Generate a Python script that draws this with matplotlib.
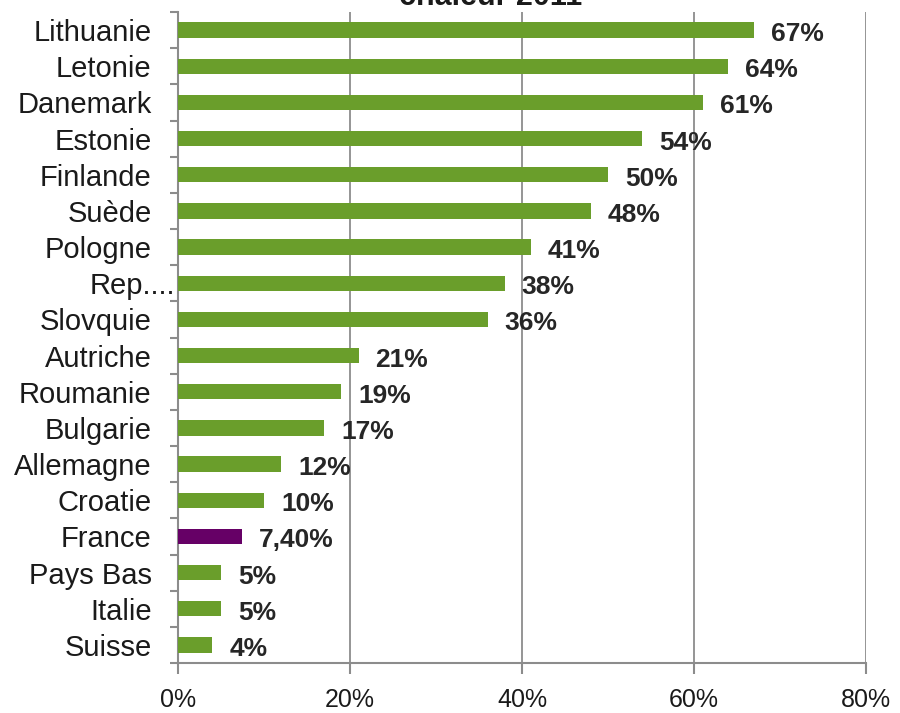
import numpy as np
import matplotlib
matplotlib.use("Agg")
from matplotlib import pyplot as plt
from matplotlib.transforms import ScaledTranslation

countries = ["Lithuanie", "Letonie", "Danemark", "Estonie", "Finlande", "Suède",
             "Pologne", "Rep....", "Slovquie", "Autriche", "Roumanie", "Bulgarie",
             "Allemagne", "Croatie", "France", "Pays Bas", "Italie", "Suisse"]
values = [67, 64, 61, 54, 50, 48, 41, 38, 36, 21, 19, 17, 12, 10, 7.4, 5, 5, 4]
value_labels = ["67%", "64%", "61%", "54%", "50%", "48%", "41%", "38%", "36%", "21%",
                "19%", "17%", "12%", "10%", "7,40%", "5%", "5%", "4%"]
xticks = [0, 20, 40, 60, 80]
xtick_labels = ["0%", "20%", "40%", "60%", "80%"]

green = "#6a9e2b"
purple = "#660066"
grey = "#8c8c8c"

plt.rcParams['font.family'] = ['Liberation Sans', 'DejaVu Sans']

fig = plt.figure(figsize=(9, 7.13), dpi=100)
ax = fig.add_axes([178/900, 1-663/713, (866-178)/900, (663-12)/713])

y = np.arange(len(countries))
colors = [purple if c == "France" else green for c in countries]
ax.barh(y, values, height=0.42, color=colors, zorder=3)

for yi, v, lab in zip(y, values, value_labels):
    ax.annotate(lab, (v, yi), xytext=(17, -4), textcoords="offset pixels",
                va="center", ha="left", fontsize=19, fontweight="bold",
                color="#262626", zorder=4)

ax.set_xlim(0, 80)
ax.set_ylim(len(countries) - 0.5, -0.5)
ax.set_xticks(xticks)
ax.set_xticklabels(xtick_labels, fontsize=18, color="#1a1a1a")
ax.set_yticks(y)
ax.set_yticklabels(countries, fontsize=21, color="#1a1a1a")
ax.set_yticks(np.arange(len(countries) + 1) - 0.5, minor=True)

ax.tick_params(axis="y", which="major", length=0, pad=19)
ax.tick_params(axis="y", which="minor", length=6, color=grey, width=1.5)
ax.tick_params(axis="x", length=8, color=grey, width=1.5, pad=10)

# the truncated label overflows onto the axis
for t in ax.get_yticklabels():
    if t.get_text().startswith("Rep"):
        t.set_transform(t.get_transform() + ScaledTranslation(24/100, 0, fig.dpi_scale_trans))

ax.grid(axis="x", color=grey, linewidth=1.3, zorder=0)
ax.spines["top"].set_visible(False)
ax.spines["right"].set_visible(False)
ax.spines["left"].set_color(grey)
ax.spines["bottom"].set_color(grey)
ax.spines["left"].set_linewidth(1.5)
ax.spines["bottom"].set_linewidth(1.5)

# title is cut off at the top edge in the original
fig.text(491/900, 1 - 5/713, "chaleur 2011", ha="center", va="baseline",
         fontsize=22, fontweight="bold", color="#1a1a1a")

plt.savefig("out.png", dpi=100)
